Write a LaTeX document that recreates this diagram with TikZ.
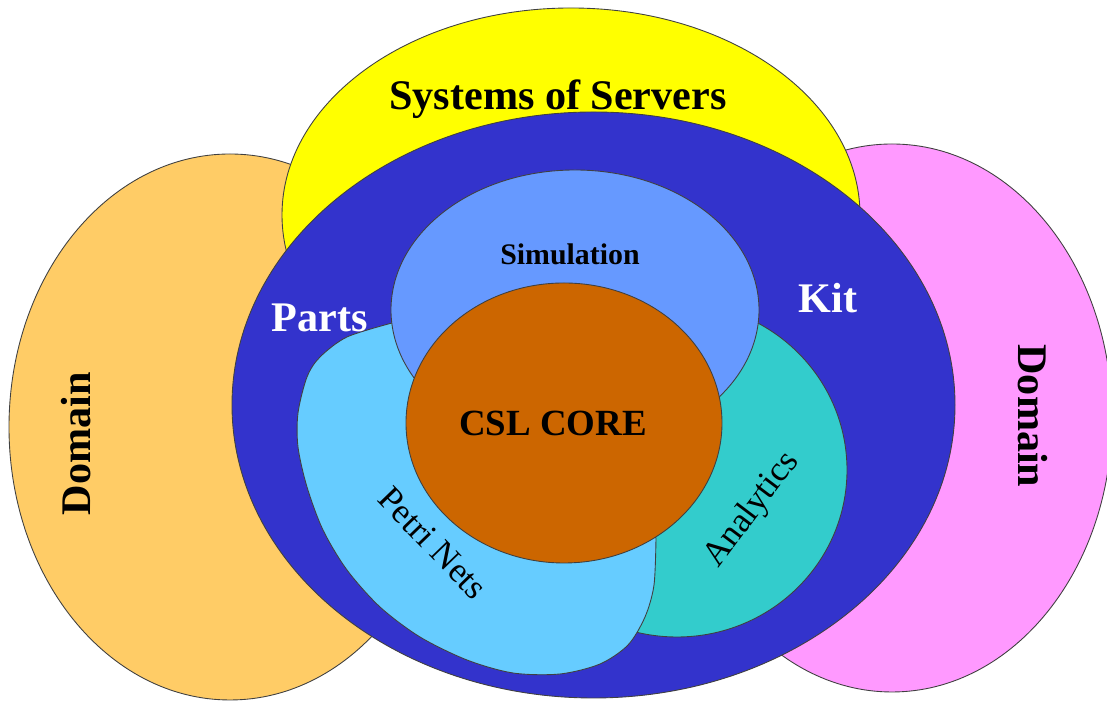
\documentclass[tikz,border=0pt]{standalone}
\usepackage{fontspec}
\setmainfont{Liberation Serif}
\usepackage{tikz}

\definecolor{domainorange}{HTML}{FFCC66}
\definecolor{domainpink}{HTML}{FF99FF}
\definecolor{serversyellow}{HTML}{FFFF00}
\definecolor{kitblue}{HTML}{3333CC}
\definecolor{simblue}{HTML}{6699FF}
\definecolor{petricyan}{HTML}{66CCFF}
\definecolor{analyticsteal}{HTML}{33CCCC}
\definecolor{corebrown}{HTML}{CC6600}

\begin{document}
\begin{tikzpicture}[x=0.02cm, y=0.02cm,
  region/.style={draw=black!75, line width=0.5pt},
  bigtext/.style={font=\fontsize{24}{28}\selectfont\bfseries},
  simtext/.style={font=\fontsize{17}{20}\selectfont\bfseries},
  coretext/.style={font=\fontsize{21}{25}\selectfont\bfseries},
  slanttext/.style={font=\fontsize{20}{23}\selectfont}]

\useasboundingbox (0,0) rectangle (1107,702);

% outer ring
\draw[region, fill=domainorange] (230,275) ellipse [x radius=221, y radius=273];
\draw[region, fill=domainpink] (892,284) ellipse [x radius=220, y radius=274];
\draw[region, fill=serversyellow] (571,487) ellipse [x radius=289, y radius=207];
\draw[region, fill=kitblue] (593.5,297) ellipse [x radius=361.5, y radius=293];

% inner parts
\draw[region, fill=analyticsteal] (677,232) ellipse [x radius=170, y radius=167];
\draw[region, fill=petricyan] plot[smooth] coordinates {(392,379) (347,365) (320,345) (307,325) (298,289) (298,255) (307,215) (323,172) (347,132) (380,95) (420,65) (467,42) (513,29) (560,28) (600,38) (628,57) (645,85) (654,117) (656,164)}
  -- (560,272) -- (430,367) -- cycle;
\draw[region, fill=simblue] (575,392) ellipse [x radius=184, y radius=140];
\draw[region, fill=corebrown] (564,279) ellipse [x radius=158, y radius=140];

% labels
\node[bigtext, anchor=base] (servers) at (558,592) {Systems of Servers};
\node[simtext, anchor=base] (simulation) at (570,437) {Simulation};
\node[bigtext, text=white, anchor=base] (parts) at (320,370) {Parts};
\node[bigtext, text=white, anchor=base] (kit) at (828,389) {Kit};
\node[coretext, anchor=base] (csl) at (553,266) {CSL CORE};
\node[bigtext, rotate=90] (domainl) at (76,258) {Domain};
\node[bigtext, rotate=-90] (domainr) at (1033,286) {Domain};
\node[slanttext, rotate=-46] (petri) at (433,159) {Petri Nets};
\node[slanttext, rotate=53] (analytics) at (752,192) {Analytics};

\end{tikzpicture}
\end{document}
